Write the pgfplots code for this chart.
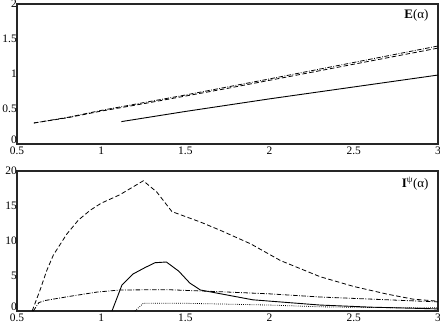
\documentclass[border=0pt]{standalone}
\usepackage{fontspec}
\setmainfont{Liberation Serif}
\usepackage{pgfplots}
\pgfplotsset{compat=1.18}

\pgfplotsset{
  panel/.style={
    scale only axis, width=421bp, height=140bp,
    xmin=0.5, xmax=3,
    xtick={0.5,1,1.5,2,2.5,3},
    axis line style={line width=1.3bp, black!85},
    tick style={draw=none},
    /pgf/number format/assume math mode=true,
    ticklabel style={font=\fontsize{11.5}{12}\selectfont},
    xticklabel style={inner sep=1pt, yshift=-1.5bp},
    yticklabel style={inner sep=1pt, xshift=1bp},
    clip=false,
  },
  dsh/.style={black, line width=0.8bp, dash pattern=on 4.5bp off 2.5bp},
  dshdot/.style={black, line width=0.8bp, dash pattern=on 4.5bp off 1.5bp on 0.8bp off 1.5bp},
  dots/.style={black, line width=0.8bp, dash pattern=on 0.8bp off 1.3bp},
  sol/.style={black, line width=0.9bp},
}

\begin{document}
\begin{tikzpicture}
\begin{axis}[panel, at={(0,0)}, anchor=south west,
  ymin=0, ymax=2, ytick={0,0.5,1,1.5,2},
  yticklabels={\raisebox{8bp}{0},0.5,1,1.5,2}]
\addplot[dsh] coordinates {(0.6,0.30) (0.8,0.375) (1.0,0.47) (1.25,0.575) (1.5,0.685) (1.75,0.795) (2,0.91) (2.5,1.14) (3,1.37)};
\addplot[dshdot] coordinates {(0.6,0.30) (0.8,0.38) (1.0,0.48) (1.25,0.59) (1.5,0.70) (1.75,0.815) (2,0.93) (2.5,1.165) (3,1.40)};
\addplot[sol] coordinates {(1.12,0.32) (1.5,0.465) (2,0.645) (2.5,0.815) (3,0.985)};
\node[anchor=north east, font=\fontsize{13}{14}\selectfont, inner sep=0pt] at (rel axis cs:0.978,0.965) {\textbf{E}(α)};
\end{axis}

\begin{axis}[panel, at={(0,-167bp)}, anchor=south west,
  ymin=0, ymax=20, ytick={0,5,10,15,20},
  yticklabels={\raisebox{8bp}{0},5,10,15,20}]
\addplot[dsh] coordinates {(0.59,0) (0.637,3.0) (0.677,5.8) (0.716,8.0) (0.796,11.0) (0.865,13.0) (0.935,14.4) (1.0,15.4) (1.11,16.6) (1.25,18.6) (1.33,17.0) (1.42,14.2) (1.59,12.7) (1.71,11.5) (1.887,9.6) (2.065,7.2) (2.3,4.9) (2.5,3.5) (2.7,2.4) (2.85,1.7) (3.0,1.4)};
\addplot[sol] coordinates {(1.064,0) (1.123,3.7) (1.19,5.3) (1.26,6.2) (1.32,6.9) (1.387,7.0) (1.46,5.7) (1.526,4.0) (1.589,3.0) (1.70,2.5) (1.9,1.6) (2.3,0.85) (2.6,0.55) (3,0.3)};
\addplot[dshdot] coordinates {(0.597,0) (0.63,1.2) (0.667,1.5) (0.815,2.1) (0.974,2.7) (1.11,3.0) (1.39,3.05) (1.71,2.75) (2.0,2.45) (2.3,2.0) (2.6,1.7) (3,1.3)};
\addplot[dots] coordinates {(1.20,0) (1.25,1.1) (1.5,1.1) (1.71,1.0) (2.0,0.85) (2.3,0.6) (2.6,0.5) (3,0.45)};
\node[anchor=north east, font=\fontsize{13}{14}\selectfont, inner sep=0pt] at (rel axis cs:0.978,0.955) {\textbf{I}\textsuperscript{ψ}(α)};
\end{axis}
\pgfresetboundingbox
\path[use as bounding box] (-17bp,-180bp) rectangle (423bp,144bp);
\end{tikzpicture}
\end{document}
